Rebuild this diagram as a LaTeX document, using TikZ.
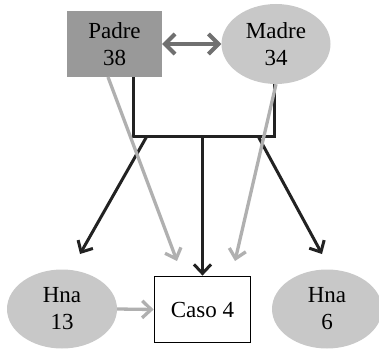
\documentclass[tikz,border=0pt]{standalone}
\usepackage{fontspec}
\setmainfont{Liberation Serif}
\usetikzlibrary{arrows.meta,shapes.geometric}

\definecolor{padregray}{HTML}{999999}
\definecolor{ovalgray}{HTML}{C8C8C8}
\definecolor{lightline}{HTML}{B0B0B0}
\definecolor{midline}{HTML}{707070}
\definecolor{darkline}{HTML}{222222}

\begin{document}
\begin{tikzpicture}[x=1pt, y=-1pt,
		every node/.style={font=\fontsize{23}{27}\selectfont, align=center, inner sep=0pt},
		person/.style={ellipse, fill=ovalgray, minimum width=110pt, minimum height=79pt},
		line/.style={darkline, line width=3pt},
		child/.style={darkline, line width=3pt, -{Straight Barb[length=9pt, width=17pt, line width=3pt]}},
		gene/.style={lightline, line width=3.3pt, -{Straight Barb[length=9pt, width=17pt, line width=3.3pt]}}]
				\useasboundingbox (0, 0) rectangle (379, 353);
				\path (114.5, 44) node[fill=padregray, minimum width=95pt, minimum height=66pt] (padre){Padre\\38}
				(276, 44) node[person, minimum width=109pt, minimum height=80pt] (madre){Madre\\34}
				(202.5, 309.5) node[draw, line width=1.8pt, minimum width=96pt, minimum height=66pt] (caso){Caso 4}
				(62, 309) node[person] (hna1){Hna\\13}
				(327, 309) node[person] (hna2){Hna\\6};
				
				\coordinate (jl) at (133, 136);
				\coordinate (jr) at (274, 136);
				\coordinate (bl) at (147, 136);
				\coordinate (bm) at (202.5, 136);
				\coordinate (br) at (258, 136);
				\coordinate (el) at (80, 254);
				\coordinate (er) at (322, 254);
				\coordinate (gp) at (108, 77);
				\coordinate (gl) at (177, 261);
				\coordinate (gr) at (235, 261);
				
				\draw[midline, line width=4pt, {Straight Barb[length=10pt, width=20pt, line width=4pt]}-{Straight Barb[length=10pt, width=20pt, line width=4pt]}] (padre.east) -- (madre.west);
				\draw[line] (jl |- padre.south) -- (jl) -- (jr) -- (jr |- madre.south);
				\draw[child] (bl) -- (el);
				\draw[child] (br) -- (er);
				\draw[child] (bm) -- (caso.north);
				\draw[gene] (gp) -- (gl);
				\draw[gene] (madre.south) -- (gr);
				\draw[gene] (hna1.east) -- (caso.west);
			\end{tikzpicture}
\end{document}
